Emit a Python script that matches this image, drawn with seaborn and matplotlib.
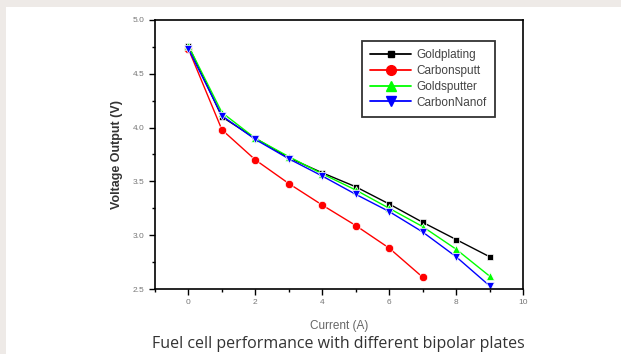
import matplotlib
matplotlib.use("Agg")
import matplotlib.pyplot as plt
from matplotlib.patches import Rectangle
from matplotlib.ticker import MultipleLocator, FormatStrFormatter
import pandas as pd
import seaborn as sns

current = [0, 1, 2, 3, 4, 5, 6, 7, 8, 9]
goldplating = [4.76, 4.10, 3.90, 3.72, 3.58, 3.45, 3.29, 3.12, 2.96, 2.80]
carbonsputt = [4.73, 3.98, 3.70, 3.48, 3.28, 3.09, 2.88, 2.61]
goldsputter = [4.76, 4.14, 3.90, 3.73, 3.57, 3.42, 3.25, 3.08, 2.87, 2.62]
carbonnanof = [4.73, 4.11, 3.89, 3.71, 3.55, 3.38, 3.22, 3.03, 2.80, 2.53]

series = {
    "Goldplating": goldplating,
    "Carbonsputt": carbonsputt,
    "Goldsputter": goldsputter,
    "CarbonNanof": carbonnanof,
}
colors = {"Goldplating": "#000000", "Carbonsputt": "#ff0000",
          "Goldsputter": "#00ff00", "CarbonNanof": "#0000ff"}
markers = {"Goldplating": "s", "Carbonsputt": "o",
           "Goldsputter": "^", "CarbonNanof": "v"}

rows = []
for name, vals in series.items():
    for x, v in zip(current, vals):
        rows.append({"Current": x, "Voltage": v, "Plate": name})
df = pd.DataFrame(rows)

sns.set_style("ticks")
plt.rcParams["font.family"] = ["Liberation Sans", "DejaVu Sans"]

fig = plt.figure(figsize=(6.21, 3.54), dpi=100, facecolor="#eeeae7")
fig.patches.append(Rectangle((6 / 621, 0), 1, 1 - 7 / 354, transform=fig.transFigure,
                             facecolor="white", edgecolor="none", zorder=-10))
ax = fig.add_axes([155 / 621, 1 - 289 / 354, 368 / 621, 269 / 354])

sns.lineplot(data=df, x="Current", y="Voltage", hue="Plate", style="Plate",
             palette=colors, markers=markers, dashes=False, linewidth=1,
             markersize=6, markeredgewidth=0.5, ax=ax, legend=False)
# smaller squares like the original
for line in ax.lines:
    if line.get_marker() == "s":
        line.set_markersize(4.5)

handles = [plt.Line2D([], [], color=colors[n], marker=markers[n], lw=1.3,
                      markersize=4.5 if markers[n] == "s" else 7) for n in series]
leg = ax.legend(handles, list(series), loc="upper right", bbox_to_anchor=(0.924, 0.922),
                frameon=True, fancybox=False, handlelength=3.4, handletextpad=0.5,
                labelspacing=0.32, borderpad=0.7, borderaxespad=0,
                prop={"size": 8.5})
leg.get_frame().set_edgecolor("black")
leg.get_frame().set_linewidth(1.3)
for t in leg.get_texts():
    t.set_color("#444444")

ax.set_xlim(-1, 10)
ax.set_ylim(2.5, 5.0)
ax.xaxis.set_major_locator(MultipleLocator(2))
ax.xaxis.set_minor_locator(MultipleLocator(1))
ax.yaxis.set_major_locator(MultipleLocator(0.5))
ax.yaxis.set_minor_locator(MultipleLocator(0.25))
ax.tick_params(which="both", direction="out", width=1, colors="black",
               labelsize=6, labelcolor="#777777")
ax.tick_params(which="major", length=4)
ax.tick_params(which="minor", length=2.5)
ax.yaxis.set_major_formatter(FormatStrFormatter("%.1f"))
for s in ax.spines.values():
    s.set_linewidth(1.2)
    s.set_color("black")

ax.set_xlabel("Current (A)", fontsize=8.5, color="#666666", labelpad=10)
ax.set_ylabel("Voltage Output (V)", fontsize=9, fontweight="bold",
              color="#333333", labelpad=7)

fig.text(338 / 621, 1 - 344 / 354, "Fuel cell performance with different bipolar plates",
         ha="center", va="center", fontsize=11.5, color="#333333",
         family=["Open Sans", "DejaVu Sans"])

fig.savefig("out.png", dpi=100, facecolor=fig.get_facecolor())
